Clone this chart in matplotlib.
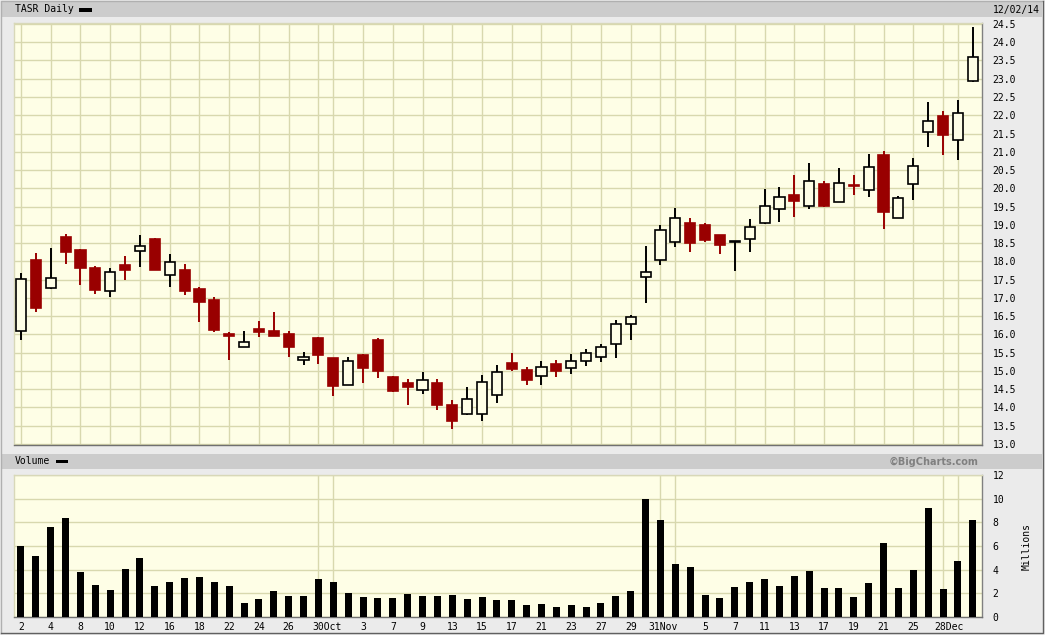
import matplotlib
matplotlib.use("Agg")
from matplotlib import pyplot as plt
from matplotlib.patches import Rectangle
from matplotlib.lines import Line2D

# TASR daily, 2 Sep 2014 - 2 Dec 2014
opens = [16.10, 18.04, 17.27, 18.68, 18.30, 17.83, 17.19, 17.91, 18.29, 18.60,
         17.63, 17.75, 17.23, 16.95, 16.00, 15.66, 16.16, 16.10, 16.00, 15.30,
         15.89, 15.35, 14.62, 15.43, 15.84, 14.83, 14.66, 14.49, 14.66, 14.06,
         13.83, 13.81, 14.33, 15.21, 15.02, 14.85, 15.18, 15.09, 15.26, 15.39,
         15.75, 16.29, 17.58, 18.04, 18.53, 19.05, 19.00, 18.71, 18.53, 18.62,
         19.05, 19.44, 19.83, 19.52, 20.13, 19.63, 20.09, 19.95, 20.92, 19.19,
         20.12, 21.55, 21.99, 21.33, 22.95]
highs = [17.68, 18.23, 18.37, 18.75, 18.35, 17.86, 17.82, 18.16, 18.71, 18.65,
         18.21, 17.94, 17.30, 17.03, 16.07, 16.08, 16.38, 16.60, 16.08, 15.52,
         15.94, 15.36, 15.39, 15.45, 15.89, 14.86, 14.79, 14.98, 14.79, 14.21,
         14.55, 14.88, 15.16, 15.48, 15.10, 15.26, 15.29, 15.46, 15.59, 15.73,
         16.39, 16.52, 18.43, 19.00, 19.47, 19.20, 19.05, 18.73, 18.54, 19.15,
         19.97, 20.04, 20.37, 20.70, 20.20, 20.57, 20.37, 20.95, 21.01, 19.80,
         20.84, 22.35, 22.13, 22.41, 24.43]
lows = [15.85, 16.61, 17.25, 17.92, 17.35, 17.10, 17.02, 17.50, 17.84, 17.76,
        17.29, 17.07, 16.33, 16.06, 15.29, 15.66, 15.92, 15.96, 15.37, 15.16,
        15.18, 14.30, 14.62, 14.67, 14.81, 14.43, 14.07, 14.38, 13.94, 13.41,
        13.80, 13.63, 14.13, 15.00, 14.62, 14.62, 14.84, 14.92, 15.14, 15.25,
        15.36, 15.85, 16.86, 17.90, 18.39, 18.25, 18.53, 18.19, 17.73, 18.25,
        19.03, 19.07, 19.21, 19.43, 19.48, 19.63, 19.82, 19.76, 18.89, 19.19,
        19.69, 21.13, 20.91, 20.77, 22.91]
closes = [17.51, 16.72, 17.55, 18.25, 17.81, 17.21, 17.71, 17.76, 18.42, 17.76,
          17.99, 17.18, 16.88, 16.11, 15.95, 15.79, 16.06, 15.97, 15.65, 15.38,
          15.43, 14.60, 15.27, 15.08, 15.00, 14.45, 14.57, 14.74, 14.07, 13.63,
          14.22, 14.71, 14.98, 15.05, 14.75, 15.10, 15.00, 15.28, 15.50, 15.66,
          16.29, 16.49, 17.72, 18.86, 19.18, 18.50, 18.58, 18.44, 18.54, 18.95,
          19.52, 19.76, 19.65, 20.20, 19.51, 20.15, 20.07, 20.58, 19.35, 19.74,
          20.61, 21.85, 21.46, 22.06, 23.59]
# volume in millions
volumes = [5.99, 5.14, 7.60, 8.36, 3.79, 2.68, 2.26, 4.04, 4.97, 2.60,
           2.94, 3.28, 3.36, 2.94, 2.60, 1.16, 1.50, 2.18, 1.75, 1.75,
           3.19, 2.94, 2.01, 1.67, 1.58, 1.58, 1.92, 1.75, 1.75, 1.84,
           1.50, 1.67, 1.41, 1.41, 0.99, 1.07, 0.82, 0.99, 0.82, 1.16,
           1.75, 2.18, 9.97, 8.19, 4.46, 4.21, 1.84, 1.58, 2.51, 2.94,
           3.19, 2.60, 3.45, 3.87, 2.43, 2.43, 1.67, 2.85, 6.24, 2.43,
           3.95, 9.21, 2.34, 4.72, 8.19]

# vertical grid at these trading-day indexes
grid_days = [0, 2, 4, 6, 8, 10, 12, 14, 16, 18, 20, 21, 23, 25, 27, 29, 31, 33,
             35, 37, 39, 41, 43, 44, 46, 48, 50, 52, 54, 56, 58, 60, 62, 63]
label_pos = [0, 2, 4, 6, 8, 10, 12, 14, 16, 18, 20.6, 23, 25, 27, 29, 31, 33,
             35, 37, 39, 41, 43.2, 46, 48, 50, 52, 54, 56, 58, 60, 62.4]
date_labels = ['2', '4', '8', '10', '12', '16', '18', '22', '24', '26', '30Oct',
               '3', '7', '9', '13', '15', '17', '21', '23', '27', '29', '31Nov',
               '5', '7', '11', '13', '17', '19', '21', '25', '28Dec']
price_ticks = [13.0 + 0.5 * k for k in range(24)]
vol_ticks = [0, 2, 4, 6, 8, 10, 12]

W, H = 1045, 635
bg = '#fefee6'
gridc = '#d8d8ae'
red = '#990000'
mono = 'DejaVu Sans Mono'

fig = plt.figure(figsize=(W / 100, H / 100), dpi=100, facecolor='#ebebeb')


def fbox(x0, y0, x1, y1):
    # pixel box (from top-left) -> figure fraction rect
    return [x0 / W, 1 - y1 / H, (x1 - x0) / W, (y1 - y0) / H]


def frect(x0, y0, x1, y1, color):
    b = fbox(x0, y0, x1, y1)
    fig.add_artist(Rectangle((b[0], b[1]), b[2], b[3], transform=fig.transFigure,
                             facecolor=color, edgecolor='none', zorder=0))


# header strips
frect(2, 2, 1042, 17, '#cccccc')
frect(2, 454, 1042, 469, '#cccccc')
frect(79, 8, 92, 11.5, 'black')
frect(56, 459.5, 68, 463, 'black')
fig.text(15 / W, 1 - 9.5 / H, 'TASR Daily', family=mono, fontsize=7, va='center', ha='left')
fig.text(1040 / W, 1 - 9.5 / H, '12/02/14', family=mono, fontsize=7, va='center', ha='right')
fig.text(15 / W, 1 - 461.5 / H, 'Volume', family=mono, fontsize=7, va='center', ha='left')
fig.text(979 / W, 1 - 461.5 / H, '\u00a9BigCharts.com', fontsize=7, fontweight='bold',
         color='#808080', va='center', ha='right')
fig.text(1027 / W, 1 - 547 / H, 'Millions', family=mono, fontsize=7, rotation=90,
         va='center', ha='center')

# outer bevel
fig.add_artist(Line2D([1 / W, 1 / W, 1043 / W], [1 - 633 / H, 1 - 1 / H, 1 - 1 / H],
                      transform=fig.transFigure, color='#b0b0b0', lw=1))
fig.add_artist(Line2D([1043 / W, 1043 / W, 1 / W], [1 - 1 / H, 1 - 633 / H, 1 - 633 / H],
                      transform=fig.transFigure, color='#606060', lw=1))

ax = fig.add_axes(fbox(14.3, 22.7, 981.7, 444.7))
axv = fig.add_axes(fbox(14.3, 475, 981.7, 616.7))

xs = list(range(len(closes)))

for a in (ax, axv):
    a.set_facecolor(bg)
    a.set_xlim(-0.45, 64.6)
    a.set_xticks(grid_days, minor=True)
    a.grid(True, which='minor', axis='x', color=gridc, lw=1.0, zorder=0)
    a.grid(True, which='major', axis='y', color=gridc, lw=1.0, zorder=0)
    a.set_axisbelow(True)
    a.yaxis.tick_right()
    a.tick_params(which='both', length=0, labelsize=7, pad=8)
    a.spines['left'].set_color('#d8d8b8')
    a.spines['top'].set_color('#d8d8b8')
    a.spines['right'].set_color('#808080')
    a.spines['bottom'].set_color('#707070')
    for s in a.spines.values():
        s.set_linewidth(1)

# candlesticks
for i in xs:
    o, h, l, c = opens[i], highs[i], lows[i], closes[i]
    up = c >= o
    col = 'black' if up else red
    ax.vlines(i, l, h, color=col, lw=1.4, zorder=2)
    ax.bar(i, max(abs(c - o), 0.03), bottom=min(o, c), width=0.68,
           facecolor=bg if up else red, edgecolor=col, lw=1.2, zorder=3)

ax.set_ylim(12.98, 24.535)
ax.set_yticks(price_ticks)
ax.set_yticklabels(['%.1f' % t for t in price_ticks], family=mono)
ax.set_xticks([])

axv.bar(xs, volumes, width=0.47, color='black', zorder=3)
axv.set_ylim(0, 12.02)
axv.set_yticks(vol_ticks)
axv.set_yticklabels([str(t) for t in vol_ticks], family=mono)
axv.set_xticks(label_pos)
axv.set_xticklabels(date_labels, family=mono)
axv.tick_params(axis='x', pad=4)

fig.savefig('out.png', dpi=100, facecolor=fig.get_facecolor())
